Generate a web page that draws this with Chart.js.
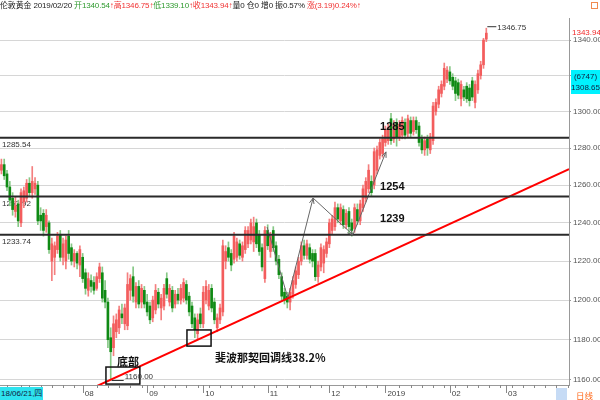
<!DOCTYPE html>
<html>
<head>
<meta charset="utf-8">
<script src="https://cdn.jsdelivr.net/npm/chart.js@4.4.0/dist/chart.umd.min.js"></script>
<style>
  body { margin: 0; background: #fff; }
  #wrap { position: relative; width: 600px; height: 400px; overflow: hidden; font-family: "Liberation Sans", "Noto Sans CJK SC", sans-serif; }
  #head { position: absolute; left: 0; top: 1px; font-size: 8px; line-height: 10px; white-space: nowrap; color: #222; letter-spacing: -0.15px; }
  #head .g { color: #2e9a2e; }
  #head .r { color: #f03232; }
  #dt { position: absolute; left: 0; top: 387px; width: 42px; height: 13px; background: #2ee3ef; color: #102040; font-size: 8px; line-height: 13px; padding-left: 1px; }
  #info { position: absolute; left: 571px; top: 70px; width: 29px; height: 24px; background: #00f2ff; color: #102040; font-size: 8px; line-height: 11px; text-align: center; padding-top: 1px; box-sizing: border-box; }
  #icon { position: absolute; left: 591px; top: 2px; width: 5px; height: 5px; border: 1px solid #f08a50; }
  #sel { position: absolute; left: 556px; top: 388px; width: 11px; height: 12px; background: #c6dbf5; }
  #period { position: absolute; left: 576px; top: 389px; font-size: 8.5px; color: #ff6a1c; }
</style>
</head>
<body>
<div id="wrap">
  <canvas id="goldChart" width="600" height="400"></canvas>
  <div id="head">伦敦黄金 2019/02/20 <span class="g">开1340.54</span><span class="r">↑</span><span class="r">高1346.75↑</span><span class="g">低1339.10</span><span class="r">↑</span><span class="r">收1343.94↑</span>量0 仓0 增0 振0.57% <span class="r">涨(3.19)0.24%↑</span></div>
  <div id="icon"></div>
  <div id="info">(6747)<br>1308.65</div>
  <div id="dt">18/06/21,四</div>
  <div id="sel"></div>
  <div id="period">日线</div>
</div>
<script>
// daily London gold, 2018/06/21 .. 2019/02/20
const opens = [1268,1271,1266,1259,1253,1246,1250,1240,1251,1253,
  1261,1256,1258,1260,1244,1245,1238,1240,1220,1222,
  1226,1234,1222,1220,1233,1227,1220,1224,1218,1222,
  1214,1205,1210,1209,1206,1211,1214,1205,1199,1181,
  1176,1184,1186,1193,1188,1187,1205,1212,1199,1207,
  1199,1205,1199,1197,1191,1195,1204,1196,1197,1211,
  1199,1205,1198,1203,1200,1201,1208,1202,1197,1191,
  1183,1193,1188,1200,1197,1206,1199,1186,1190,1194,
  1220,1227,1224,1221,1222,1229,1222,1226,1229,1231,
  1230,1240,1234,1227,1211,1236,1225,1236,1228,1221,
  1212,1204,1202,1199,1203,1208,1213,1220,1228,1223,
  1227,1224,1224,1212,1217,1219,1224,1229,1236,1238,
  1248,1241,1247,1239,1246,1240,1237,1247,1241,1248,
  1253,1258,1262,1260,1268,1276,1277,1283,1284,1296,
  1285,1294,1286,1287,1294,1288,1295,1289,1295,1292,
  1285,1279,1285,1279,1284,1300,1304,1310,1314,1318,
  1322,1319,1317,1316,1307,1312,1314,1313,1317,1305,
  1312,1320,1326,1340.54];
const highs = [1274,1274,1268,1262,1256,1254,1252,1258,1259,1263,
  1264,1270,1264,1262,1248,1247,1247,1241,1232,1230,
  1235,1236,1232,1233,1236,1229,1226,1225,1228,1224,
  1216,1214,1213,1212,1214,1219,1217,1210,1201,1186,
  1192,1193,1197,1198,1198,1214,1213,1217,1209,1210,
  1208,1207,1203,1199,1202,1208,1206,1203,1208,1214,
  1208,1207,1205,1206,1208,1211,1210,1204,1199,1193,
  1193,1196,1207,1210,1208,1208,1201,1193,1198,1231,
  1228,1230,1226,1235,1232,1231,1230,1238,1238,1242,
  1243,1242,1236,1229,1238,1239,1235,1238,1230,1223,
  1214,1206,1204,1206,1212,1217,1222,1230,1231,1231,
  1229,1226,1226,1220,1229,1228,1232,1242,1244,1251,
  1250,1250,1249,1247,1248,1242,1250,1250,1252,1260,
  1264,1271,1265,1280,1281,1285,1287,1292,1293,1299,
  1295,1296,1295,1297,1296,1298,1297,1297,1297,1294,
  1287,1286,1287,1288,1305,1307,1314,1317,1327,1325,
  1325,1321,1319,1318,1317,1314,1316,1315,1319,1317,
  1323,1328,1341,1346.75];
const lows = [1266,1263,1257,1249,1244,1243,1238,1238,1248,1251,
  1254,1253,1255,1239,1236,1233,1235,1224,1210,1213,
  1224,1220,1218,1216,1221,1218,1217,1216,1212,1209,
  1203,1202,1204,1203,1205,1209,1199,1196,1176,1160,
  1172,1181,1183,1188,1185,1185,1200,1199,1196,1196,
  1196,1196,1192,1188,1189,1193,1196,1190,1195,1201,
  1197,1194,1196,1198,1198,1199,1198,1192,1186,1181,
  1180,1186,1186,1198,1195,1194,1188,1184,1188,1192,
  1216,1220,1215,1219,1220,1221,1220,1224,1227,1229,
  1225,1227,1223,1215,1209,1226,1222,1225,1218,1211,
  1200,1198,1196,1195,1201,1206,1211,1218,1221,1221,
  1219,1217,1210,1209,1215,1214,1222,1227,1234,1236,
  1240,1239,1237,1237,1234,1233,1235,1239,1239,1246,
  1251,1256,1254,1258,1266,1274,1275,1281,1282,1282,
  1283,1281,1284,1285,1285,1286,1286,1287,1288,1281,
  1277,1276,1276,1277,1282,1298,1302,1308,1312,1316,
  1315,1312,1306,1307,1303,1306,1305,1303,1306,1302,
  1310,1318,1324,1339.10];
const closes = [1271,1265,1259,1252,1247,1249,1241,1256,1257,1261,
  1256,1262,1261,1241,1241,1236,1244,1226,1229,1228,
  1233,1222,1229,1231,1224,1220,1224,1219,1226,1211,
  1206,1211,1207,1205,1212,1217,1201,1199,1180,1174,
  1188,1190,1195,1191,1196,1208,1211,1202,1207,1198,
  1206,1198,1194,1190,1200,1205,1198,1201,1206,1203,
  1206,1196,1203,1200,1206,1209,1200,1194,1188,1185,
  1190,1188,1204,1207,1205,1196,1190,1191,1196,1228,
  1225,1222,1218,1233,1230,1223,1228,1236,1236,1240,
  1238,1229,1225,1217,1236,1228,1233,1227,1220,1213,
  1202,1200,1199,1204,1210,1215,1220,1228,1223,1229,
  1221,1220,1212,1218,1227,1226,1230,1240,1242,1248,
  1242,1248,1239,1245,1238,1236,1248,1241,1250,1258,
  1262,1268,1256,1278,1279,1283,1285,1290,1291,1284,
  1293,1286,1293,1295,1287,1296,1288,1295,1290,1283,
  1279,1284,1280,1286,1303,1305,1312,1315,1324,1323,
  1317,1314,1310,1309,1315,1308,1307,1306,1308,1315,
  1321,1326,1340,1343.94];

const slotCount = 203;              // trading days shown on the time axis
const yTickValues = [1160, 1180, 1200, 1220, 1240, 1260, 1280, 1300, 1320, 1340];
const yMin = 1157.54, yMax = 1352.6;

// support / resistance levels
const levelValues = [1285.54, 1253.92, 1233.74];
const levelTags = ['1285', '1254', '1239'];
const levelTagAt = [[135.1, 1289.8], [135.1, 1257.4], [135.1, 1240.4]];

// rising trend line and the wave drawn by hand (index, price)
const trendIdx = [33.4, 202.5];
const trendVal = [1156.6, 1268.6];
const waveIdx = [94.8, 102.2, 111.2, 125.4, 137.2];
const waveVal = [1237.8, 1201.1, 1253.1, 1233.7, 1277.9];

// boxes: [fromIdx, toIdx, lowPrice, highPrice]
const noteBoxes = [[37.3, 49.4, 1158.0, 1166.4], [66.2, 74.8, 1176.8, 1184.9]];

// build the trading day list (weekdays, no Christmas)
const categories = [];
const day = new Date(Date.UTC(2018, 5, 21));
while (categories.length < slotCount) {
  const iso = day.toISOString().slice(0, 10);
  const wd = day.getUTCDay();
  if (wd !== 0 && wd !== 6 && iso !== '2018-12-25') categories.push(iso);
  day.setUTCDate(day.getUTCDate() + 1);
}
const monthTicks = [], monthLabels = [];
categories.forEach((c, i) => {
  if (i > 0 && i < slotCount - 6 && c.slice(5, 7) !== categories[i - 1].slice(5, 7)) {
    monthTicks.push(i);
    monthLabels.push(c.slice(5, 7) === '01' ? c.slice(0, 4) : c.slice(5, 7));
  }
});

const UP = '#f35d5d', UP_WICK = '#f47f7f';
const DOWN = '#0f8a14', DOWN_WICK = '#86c886';
const isUp = i => closes[i] >= opens[i];

function arrowHead(ctx, x0, y0, x1, y1) {
  const a = Math.atan2(y1 - y0, x1 - x0);
  ctx.beginPath();
  ctx.moveTo(x1 - 6 * Math.cos(a - 0.4), y1 - 6 * Math.sin(a - 0.4));
  ctx.lineTo(x1, y1);
  ctx.lineTo(x1 - 6 * Math.cos(a + 0.4), y1 - 6 * Math.sin(a + 0.4));
  ctx.stroke();
}

const overlay = {
  id: 'overlay',
  beforeDatasetsDraw(chart) {
    const {ctx, chartArea, scales: {y}} = chart;
    ctx.save();
    ctx.font = '8px "Liberation Sans"';
    ctx.fillStyle = '#333';
    ctx.textBaseline = 'top';
    levelValues.forEach(v => ctx.fillText(v.toFixed(2), chartArea.left + 2, y.getPixelForValue(v) + 3));
    ctx.restore();
  },
  afterDatasetsDraw(chart) {
    const {ctx, scales: {x, y}} = chart;
    ctx.save();
    // arrow heads on the wave
    ctx.strokeStyle = '#666';
    ctx.lineWidth = 1;
    for (let k = 2; k < waveIdx.length; k++) {
      arrowHead(ctx, x.getPixelForValue(waveIdx[k - 1]), y.getPixelForValue(waveVal[k - 1]),
        x.getPixelForValue(waveIdx[k]), y.getPixelForValue(waveVal[k]));
    }
    // boxes
    ctx.strokeStyle = '#111';
    ctx.lineWidth = 1.5;
    noteBoxes.forEach(b => {
      const x0 = x.getPixelForValue(b[0]), x1 = x.getPixelForValue(b[1]);
      const y0 = y.getPixelForValue(b[3]), y1 = y.getPixelForValue(b[2]);
      ctx.strokeRect(x0, y0, x1 - x0, y1 - y0);
    });
    // level tags
    ctx.fillStyle = '#111';
    ctx.font = 'bold 11px "Liberation Sans"';
    ctx.textBaseline = 'alphabetic';
    levelTags.forEach((t, k) => ctx.fillText(t, x.getPixelForValue(levelTagAt[k][0]), y.getPixelForValue(levelTagAt[k][1])));
    ctx.font = 'bold 11px "Noto Sans CJK SC"';
    ctx.fillText('底部', x.getPixelForValue(41.2), y.getPixelForValue(1166.9));
    ctx.fillText('斐波那契回调线38.2%', x.getPixelForValue(76.2), y.getPixelForValue(1169.0));
    // high / low markers
    const lowIdx = lows.indexOf(Math.min(...lows));
    const highIdx = highs.indexOf(Math.max(...highs));
    ctx.strokeStyle = '#333';
    ctx.lineWidth = 1;
    ctx.fillStyle = '#333';
    ctx.font = '8px "Liberation Sans"';
    let px = x.getPixelForValue(lowIdx), py = y.getPixelForValue(lows[lowIdx]);
    ctx.beginPath(); ctx.moveTo(px + 1, py + 0.5); ctx.lineTo(px + 13, py + 0.5); ctx.stroke();
    ctx.textBaseline = 'bottom';
    ctx.fillText(lows[lowIdx].toFixed(2), px + 14, py + 0.5);
    px = x.getPixelForValue(highIdx); py = y.getPixelForValue(highs[highIdx]);
    ctx.beginPath(); ctx.moveTo(px + 1, py - 1.5); ctx.lineTo(px + 10, py - 1.5); ctx.stroke();
    ctx.textBaseline = 'middle';
    ctx.fillText(highs[highIdx].toFixed(2), px + 11, py);
    ctx.restore();
  },
  afterDraw(chart) {
    const {ctx, chartArea, scales: {x, y}} = chart;
    ctx.save();
    // time axis tick marks
    ctx.strokeStyle = '#888';
    ctx.lineWidth = 1;
    const base = chartArea.bottom;
    for (let i = 2; i < slotCount; i += 4) {
      if (monthTicks.some(m => Math.abs(m - i) < 2)) continue;
      const px = Math.round(x.getPixelForValue(i)) + 0.5;
      ctx.beginPath(); ctx.moveTo(px, base); ctx.lineTo(px, base + 3); ctx.stroke();
    }
    monthTicks.forEach(m => {
      const px = Math.round(x.getPixelForValue(m)) + 0.5;
      ctx.beginPath(); ctx.moveTo(px, base); ctx.lineTo(px, base + 8); ctx.stroke();
    });
    // last close on the price axis
    const last = closes[closes.length - 1];
    const ly = y.getPixelForValue(last);
    ctx.fillStyle = '#fff';
    ctx.fillRect(chartArea.right + 2, ly - 5, 30, 9);
    ctx.fillStyle = '#f02828';
    ctx.font = '8px "Liberation Sans"';
    ctx.textBaseline = 'middle';
    ctx.fillText(last.toFixed(2), chartArea.right + 3, ly);
    ctx.restore();
  }
};

Chart.defaults.font.family = '"Liberation Sans", "Noto Sans CJK SC", sans-serif';
Chart.defaults.font.size = 8;

const levelSets = levelValues.map(v => ({
  type: 'line',
  order: 0,
  data: [{x: -0.5, y: v}, {x: slotCount - 0.5, y: v}],
  borderColor: '#2a2a2a', borderWidth: 2, pointRadius: 0
}));

const ctx = document.getElementById('goldChart');
new Chart(ctx, {
  type: 'bar',
  data: {
    datasets: [
      ...levelSets,
      {
        type: 'line',
        order: 0,
        data: trendIdx.map((v, i) => ({x: v, y: trendVal[i]})),
        borderColor: '#ff0000', borderWidth: 2, pointRadius: 0
      },
      {
        type: 'line',
        order: 0,
        data: waveIdx.map((v, i) => ({x: v, y: waveVal[i]})),
        borderColor: '#666', borderWidth: 1, pointRadius: 0
      },
      {
        order: 1,
        grouped: false,
        barThickness: 2,
        data: opens.map((o, i) => ({x: i, y: [o, closes[i]]})),
        backgroundColor: c => (isUp(c.dataIndex) ? UP : DOWN)
      },
      {
        order: 2,
        grouped: false,
        barThickness: 1,
        data: highs.map((h, i) => ({x: i, y: [lows[i], h]})),
        backgroundColor: c => (isUp(c.dataIndex) ? UP_WICK : DOWN_WICK)
      }
    ]
  },
  options: {
    responsive: false,
    animation: false,
    layout: { padding: { top: 18, left: 0, right: 0, bottom: 0 } },
    plugins: { legend: { display: false }, tooltip: { enabled: false } },
    scales: {
      x: {
        type: 'linear',
        min: -0.5,
        max: slotCount - 0.5,
        offset: false,
        grid: { display: false, drawTicks: false },
        border: { display: true, color: '#999' },
        afterFit: s => { s.height = 15; },
        afterBuildTicks: s => { s.ticks = monthTicks.map(v => ({value: v})); },
        ticks: {
          autoSkip: false, maxRotation: 0, align: 'start', padding: 4, labelOffset: 2,
          color: '#444', font: { size: 8 },
          callback: (v, i) => monthLabels[i]
        }
      },
      y: {
        type: 'logarithmic',
        position: 'right',
        min: yMin,
        max: yMax,
        grid: { color: '#d6d6d6', tickLength: 2, tickColor: '#999' },
        border: { display: true, color: '#999' },
        afterFit: s => { s.width = 31; },
        afterBuildTicks: s => { s.ticks = yTickValues.map(v => ({value: v})); },
        ticks: {
          padding: 2, color: '#555', font: { size: 8 },
          callback: v => Number(v).toFixed(2)
        }
      }
    }
  },
  plugins: [overlay]
});
</script>
</body>
</html>
